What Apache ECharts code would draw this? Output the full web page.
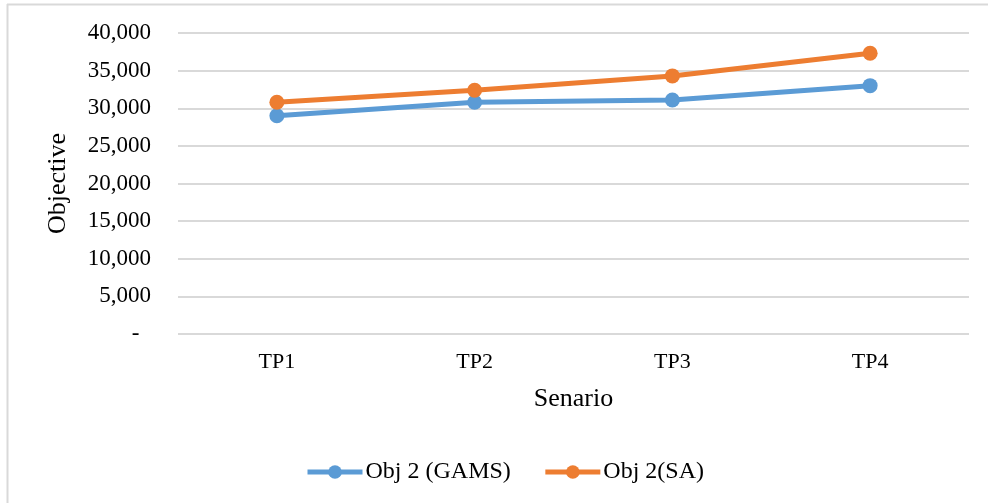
<!DOCTYPE html>
<html>
<head>
<meta charset="utf-8">
<script src="https://cdn.jsdelivr.net/npm/echarts@6/dist/echarts.min.js"></script>
<style>
  html, body { margin: 0; padding: 0; background: #fff; }
  #chart { width: 988px; height: 503px; }
</style>
</head>
<body>
<div id="chart"></div>
<script>
// Scenario categories and the two objective series
const scenarios = ['TP1', 'TP2', 'TP3', 'TP4'];
const gamsValues = [29000, 30800, 31100, 33000];
const saValues = [30800, 32400, 34300, 37300];
const seriesNames = ['Obj 2 (GAMS)', 'Obj 2(SA)'];
const axisTitles = { x: 'Senario', y: 'Objective' };

const serif = '"Liberation Serif", "Times New Roman", serif';
const blue = '#5B9BD5';
const orange = '#ED7D31';

const chart = echarts.init(document.getElementById('chart'), null, { renderer: 'canvas' });

// accounting-style ticks: thousands separators, a dash for zero
function formatTick(v) {
  if (v === 0) return '-  ';
  return v.toString().replace(/\B(?=(\d{3})+(?!\d))/g, ',');
}

function lineSeries(name, data, color) {
  return {
    name: name,
    type: 'line',
    data: data,
    symbol: 'circle',
    symbolSize: 15,
    lineStyle: { color: color, width: 5 },
    itemStyle: { color: color },
    emphasis: { disabled: true },
    animation: false
  };
}

chart.setOption({
  animation: false,
  textStyle: { fontFamily: serif },
  graphic: [
    // frame of the chart area (top and left edges)
    { type: 'line', shape: { x1: 7, y1: 4.5, x2: 988, y2: 4.5 }, style: { stroke: '#D9D9D9', lineWidth: 2 }, silent: true },
    { type: 'line', shape: { x1: 7.5, y1: 4, x2: 7.5, y2: 503 }, style: { stroke: '#D9D9D9', lineWidth: 2 }, silent: true }
  ],
  grid: { left: 178, right: 19, top: 33, bottom: 169 },
  legend: {
    left: 305,
    top: 460,
    padding: 0,
    itemWidth: 55,
    itemHeight: 17,
    itemGap: 32,
    lineStyle: { width: 5 },
    textStyle: { fontFamily: serif, fontSize: 24, color: '#000', padding: [0, 0, 0, -2] },
    data: seriesNames
  },
  xAxis: {
    type: 'category',
    data: scenarios,
    boundaryGap: true,
    name: axisTitles.x,
    nameLocation: 'middle',
    nameGap: 52,
    nameTextStyle: { fontFamily: serif, fontSize: 26, color: '#000' },
    axisLine: { show: false },
    axisTick: { show: false },
    axisLabel: { fontFamily: serif, fontSize: 22, color: '#000', margin: 17 }
  },
  yAxis: {
    type: 'value',
    min: 0,
    max: 40000,
    interval: 5000,
    name: axisTitles.y,
    nameLocation: 'middle',
    nameRotate: 90,
    nameGap: 107,
    nameTextStyle: { fontFamily: serif, fontSize: 26, color: '#000' },
    axisLine: { show: false },
    axisTick: { show: false },
    splitLine: { lineStyle: { color: '#D9D9D9', width: 2 } },
    axisLabel: { fontFamily: serif, fontSize: 23, color: '#000', margin: 27, formatter: formatTick }
  },
  series: [
    lineSeries(seriesNames[0], gamsValues, blue),
    lineSeries(seriesNames[1], saValues, orange)
  ]
});
</script>
</body>
</html>
